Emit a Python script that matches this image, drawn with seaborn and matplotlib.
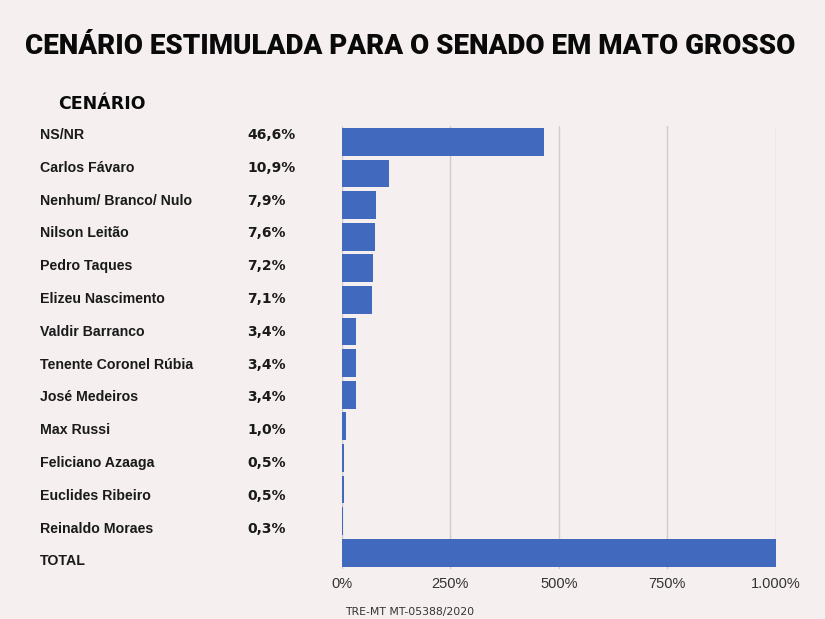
import matplotlib
import matplotlib.pyplot as plt
import seaborn as sns
import pandas as pd
matplotlib.use("Agg")

names = [
    "NS/NR", "Carlos Fávaro", "Nenhum/ Branco/ Nulo", "Nilson Leitão",
    "Pedro Taques", "Elizeu Nascimento", "Valdir Barranco",
    "Tenente Coronel Rúbia", "José Medeiros", "Max Russi",
    "Feliciano Azaaga", "Euclides Ribeiro", "Reinaldo Moraes", "TOTAL",
]
pct = [46.6, 10.9, 7.9, 7.6, 7.2, 7.1, 3.4, 3.4, 3.4, 1.0, 0.5, 0.5, 0.3, 100.0]
pct_labels = ["46,6%", "10,9%", "7,9%", "7,6%", "7,2%", "7,1%", "3,4%",
              "3,4%", "3,4%", "1,0%", "0,5%", "0,5%", "0,3%", ""]
tick_values = [0, 25, 50, 75, 100]
tick_labels = ["0%", "250%", "500%", "750%", "1.000%"]

BG = "#F5EFEF"
BAR = "#4169BD"
W, H = 825, 619


def main():
    df = pd.DataFrame({"name": names, "pct": pct})

    sns.set_theme(style="white")
    plt.rcParams["font.family"] = ["Liberation Sans", "DejaVu Sans"]

    fig = plt.figure(figsize=(W / 100, H / 100), dpi=100, facecolor=BG)
    ax = fig.add_axes([341.5 / W, 50.5 / H, 434.5 / W, 442.5 / H])
    ax.set_facecolor(BG)

    sns.barplot(data=df, x="pct", y="name", color=BAR, saturation=1,
                width=0.88, orient="h", ax=ax, edgecolor="none")

    ax.set_xlim(0, 100)
    ax.set_xticks(tick_values)
    ax.set_xticklabels(tick_labels)
    ax.set_axisbelow(True)
    ax.grid(axis="x", color="#D0CCCC", linewidth=1)
    ax.grid(axis="y", visible=False)
    ax.set_yticks([])
    ax.set_xlabel("")
    ax.set_ylabel("")
    for s in ax.spines.values():
        s.set_visible(False)
    ax.tick_params(axis="x", length=0, pad=6, labelsize=10.5,
                   labelcolor="#333333")

    # row labels sit on their own slightly wider grid than the bars
    top, pitch = 135, 32.8
    for i, (n, lab) in enumerate(zip(names, pct_labels)):
        y = 1 - (top + i * pitch) / H
        fig.text(40 / W, y, n, ha="left", va="center", fontsize=10.2,
                 fontweight="bold", color="#1A1A1A")
        fig.text(247 / W, y, lab, ha="left", va="center", fontsize=10,
                 fontweight="bold", color="#1A1A1A",
                 family=["DejaVu Sans"])

    fig.text(0.497, 1 - 46 / H, "CENÁRIO ESTIMULADA PARA O SENADO EM MATO GROSSO",
             ha="center", va="center", fontsize=20, color="#0A0A0A",
             family=["Roboto", "DejaVu Sans"], fontweight="black")
    fig.text(58 / W, 1 - 104 / H, "CENÁRIO", ha="left", va="center",
             fontsize=12.5, color="#0A0A0A", family=["DejaVu Sans"],
             fontweight="bold")
    fig.text(345 / W, 1 - 612 / H, "TRE-MT MT-05388/2020", ha="left",
             va="center", fontsize=7.8, color="#333333",
             family=["DejaVu Sans"])

    fig.savefig("out.png", dpi=100, facecolor=BG)
    plt.close(fig)


if __name__ == "__main__":
    main()
